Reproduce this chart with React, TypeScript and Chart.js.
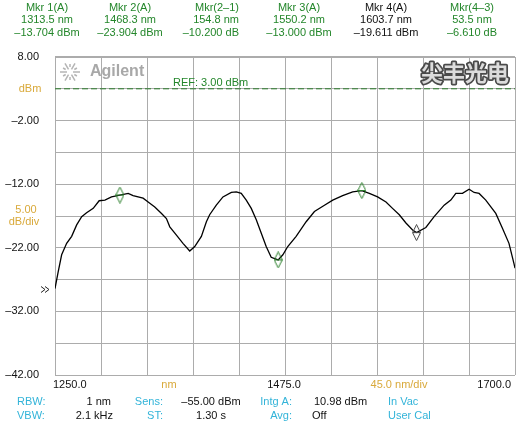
import React, { useEffect, useRef } from 'react';
import { Chart, registerables } from 'chart.js';

Chart.register(...registerables);

// ---------- data ----------
const waveNm = [
  1250.0, 1253.2, 1256.5, 1261.4, 1266.3, 1271.2, 1276.1, 1280.9, 1287.4, 1293.2,
  1298.8, 1305.3, 1313.5, 1321.6, 1326.4, 1331.3, 1336.2, 1341.1, 1347.6, 1354.2,
  1359.0, 1362.3, 1368.8, 1375.2, 1381.8, 1386.7, 1393.2, 1398.1, 1401.3, 1407.8,
  1414.3, 1422.5, 1427.4, 1432.2, 1437.1, 1442.0, 1446.9, 1451.8, 1456.6, 1461.5,
  1468.3, 1472.9, 1477.7, 1485.9, 1495.7, 1503.8, 1513.6, 1521.7, 1531.4, 1541.2,
  1550.2, 1557.5, 1565.6, 1573.8, 1580.2, 1586.8, 1593.3, 1599.8, 1603.7, 1612.8,
  1620.9, 1630.7, 1637.2, 1642.1, 1648.6, 1655.1, 1660.0, 1664.9, 1671.4, 1681.2,
  1687.6, 1694.1, 1699.0, 1700.0,
];
const powerDbm = [
  -28.4, -25.7, -23.1, -21.3, -20.2, -18.4, -17.1, -16.5, -15.8, -14.6,
  -14.5, -14.0, -13.7, -13.45, -13.8, -14.0, -14.2, -14.8, -15.6, -16.6,
  -17.4, -18.7, -20.0, -21.3, -22.5, -21.8, -20.2, -17.9, -16.8, -15.3,
  -14.0, -13.3, -13.2, -13.45, -14.5, -15.8, -17.6, -19.7, -21.8, -23.5,
  -23.9, -23.1, -21.8, -20.2, -17.9, -16.3, -15.3, -14.5, -13.8, -13.2,
  -13.0, -13.45, -14.0, -14.8, -15.8, -16.8, -18.1, -19.2, -19.6, -18.8,
  -17.1, -15.3, -14.5, -13.45, -13.45, -12.8, -13.3, -13.45, -14.5, -16.6,
  -18.9, -21.3, -24.5, -25.2,
];

const markerNm = [1313.5, 1468.3, 1550.2, 1603.7];
const markerDbm = [-13.704, -23.904, -13.0, -19.611];
const markerColors = ['#2a7f2a', '#2a7f2a', '#2a7f2a', '#444444'];

const refLevel = 3.0;
const refLabel = 'REF: 3.00 dBm';

const xMin = 1250;
const xMax = 1700;
const xStep = 45;
const yMin = -42;
const yMax = 8;
const yStep = 5;

const yTickValues = [8, -2, -12, -22, -32, -42];
const yTickLabels = ['8.00', '–2.00', '–12.00', '–22.00', '–32.00', '–42.00'];
const yUnitValue = 3;
const yUnitLabel = 'dBm';
const yDivValue = -17;
const yDivLabel = ['5.00', 'dB/div'];

const xTickValues = [1250, 1475, 1700];
const xTickLabels = ['1250.0', '1475.0', '1700.0'];
const xUnitLabel = 'nm';
const xDivLabel = '45.0 nm/div';

const headerTitles = ['Mkr 1(A)', 'Mkr 2(A)', 'Mkr(2–1)', 'Mkr 3(A)', 'Mkr 4(A)', 'Mkr(4–3)'];
const headerWaves = ['1313.5 nm', '1468.3 nm', '154.8 nm', '1550.2 nm', '1603.7 nm', '53.5 nm'];
const headerLevels = ['–13.704 dBm', '–23.904 dBm', '–10.200 dB', '–13.000 dBm', '–19.611 dBm', '–6.610 dB'];
const headerColors = ['#23862a', '#23862a', '#23862a', '#23862a', '#111111', '#23862a'];

const infoLabels1 = ['RBW:', 'Sens:', 'Intg A:', 'In Vac'];
const infoValues1 = ['1 nm', '–55.00 dBm', '10.98 dBm'];
const infoLabels2 = ['VBW:', 'ST:', 'Avg:', 'User Cal'];
const infoValues2 = ['2.1 kHz', '1.30 s', 'Off'];

// ---------- style ----------
const GREEN = '#23862a';
const ORANGE = '#d9a93a';
const CYAN = '#33b4d9';
const GRID = '#acacac';
const FONT = '"Liberation Sans", Arial, sans-serif';

function makeMarker(color: string): HTMLCanvasElement {
  const c = document.createElement('canvas');
  c.width = 9;
  c.height = 17;
  const g = c.getContext('2d')!;
  g.strokeStyle = color;
  g.lineWidth = 1;
  g.beginPath();
  g.moveTo(4.5, 0.5);
  g.lineTo(8.5, 8.5);
  g.lineTo(4.5, 16.5);
  g.lineTo(0.5, 8.5);
  g.closePath();
  g.moveTo(1, 8.5);
  g.lineTo(8, 8.5);
  g.stroke();
  return c;
}

const textPlugin = {
  id: 'osaText',
  beforeDraw(chart: any) {
    const ctx = chart.ctx;
    ctx.save();
    ctx.fillStyle = '#ffffff';
    ctx.fillRect(0, 0, chart.width, chart.height);
    ctx.restore();
  },
  afterDraw(chart: any) {
    const ctx = chart.ctx;
    const xs = chart.scales.x;
    const ys = chart.scales.y;
    const area = chart.chartArea;
    ctx.save();
    ctx.font = `11px ${FONT}`;
    ctx.textBaseline = 'middle';

    // header
    const headerX = [47, 130, 239, 299, 386, 472];
    const headerAlign = ['center', 'center', 'right', 'center', 'center', 'center'];
    for (let i = 0; i < headerTitles.length; i++) {
      ctx.fillStyle = headerColors[i];
      ctx.textAlign = headerAlign[i];
      ctx.fillText(headerTitles[i], headerX[i], 8);
      ctx.fillText(headerWaves[i], headerX[i], 20);
      ctx.fillText(headerLevels[i], headerX[i], 33);
    }

    // y labels
    ctx.textAlign = 'right';
    ctx.fillStyle = '#111';
    yTickValues.forEach((v, i) => {
      ctx.fillText(yTickLabels[i], 39, ys.getPixelForValue(v));
    });
    ctx.fillStyle = ORANGE;
    ctx.textAlign = 'center';
    ctx.fillText(yUnitLabel, 30, ys.getPixelForValue(yUnitValue));
    const dv = ys.getPixelForValue(yDivValue);
    ctx.fillText(yDivLabel[0], 26, dv - 6);
    ctx.fillText(yDivLabel[1], 24, dv + 6);

    // trace start indicator
    const sy = ys.getPixelForValue(powerDbm[0]) + 1;
    ctx.strokeStyle = '#222';
    ctx.lineWidth = 1;
    ctx.beginPath();
    ctx.moveTo(41, sy - 3);
    ctx.lineTo(45, sy);
    ctx.lineTo(41, sy + 3);
    ctx.moveTo(45, sy - 3);
    ctx.lineTo(49, sy);
    ctx.lineTo(45, sy + 3);
    ctx.stroke();

    // x labels
    const xRow = area.bottom + 10;
    ctx.fillStyle = '#111';
    ctx.textAlign = 'left';
    ctx.fillText(xTickLabels[0], xs.getPixelForValue(xTickValues[0]) - 2, xRow);
    ctx.textAlign = 'center';
    ctx.fillText(xTickLabels[1], xs.getPixelForValue(xTickValues[1]) - 1, xRow);
    ctx.textAlign = 'right';
    ctx.fillText(xTickLabels[2], xs.getPixelForValue(xTickValues[2]) - 4, xRow);
    ctx.fillStyle = ORANGE;
    ctx.textAlign = 'center';
    ctx.fillText(xUnitLabel, 169, xRow);
    ctx.fillText(xDivLabel, 399, xRow);

    // info rows
    const r1 = 402;
    const r2 = 416;
    ctx.fillStyle = CYAN;
    ctx.textAlign = 'left';
    ctx.fillText(infoLabels1[0], 17, r1);
    ctx.fillText(infoLabels2[0], 17, r2);
    ctx.textAlign = 'right';
    ctx.fillText(infoLabels1[1], 163, r1);
    ctx.fillText(infoLabels2[1], 163, r2);
    ctx.fillText(infoLabels1[2], 292, r1);
    ctx.fillText(infoLabels2[2], 292, r2);
    ctx.textAlign = 'left';
    ctx.fillText(infoLabels1[3], 388, r1);
    ctx.fillText(infoLabels2[3], 388, r2);

    ctx.fillStyle = '#111';
    ctx.textAlign = 'right';
    ctx.fillText(infoValues1[0], 111, r1);
    ctx.fillText(infoValues2[0], 113, r2);
    ctx.textAlign = 'center';
    ctx.fillText(infoValues1[1], 211, r1);
    ctx.fillText(infoValues2[1], 211, r2);
    ctx.textAlign = 'left';
    ctx.fillText(infoValues1[2], 314, r1);
    ctx.fillText(infoValues2[2], 312, r2);

    // REF label
    ctx.fillStyle = GREEN;
    ctx.textAlign = 'left';
    ctx.fillText(refLabel, 173, ys.getPixelForValue(refLevel) - 6);

    // Agilent logo
    const cx = 70;
    const cy = 72;
    ctx.strokeStyle = '#b4b4b4';
    ctx.lineWidth = 1.5;
    for (let k = 0; k < 12; k++) {
      const a = (k * Math.PI) / 6;
      const r0 = k % 2 === 0 ? 3 : 5;
      const r1b = k % 2 === 0 ? 10 : 8;
      ctx.beginPath();
      ctx.moveTo(cx + r0 * Math.cos(a), cy + r0 * Math.sin(a));
      ctx.lineTo(cx + r1b * Math.cos(a), cy + r1b * Math.sin(a));
      ctx.stroke();
    }
    ctx.font = `bold 16px ${FONT}`;
    ctx.fillStyle = '#a8a8a8';
    ctx.textAlign = 'left';
    ctx.fillText('Agilent', 90, 72);

    // Chinese logo
    ctx.font = 'bold 22px "Noto Sans CJK SC", sans-serif';
    ctx.textAlign = 'center';
    ctx.lineJoin = 'round';
    ctx.lineWidth = 3.5;
    ctx.strokeStyle = '#4a4a4a';
    ctx.strokeText('尖丰光电', 465, 73);
    ctx.fillStyle = '#dcdcdc';
    ctx.fillText('尖丰光电', 465, 73);

    ctx.restore();
  },
};

export default function App() {
  const ref = useRef<HTMLCanvasElement | null>(null);

  useEffect(() => {
    const canvas = ref.current;
    if (!canvas) return;
    const markerImgs = markerColors.map((c) => makeMarker(c));
    const chart = new Chart(canvas, {
      type: 'line',
      data: {
        datasets: [
          {
            label: 'trace',
            data: waveNm.map((x, i) => ({ x, y: powerDbm[i] })),
            borderColor: '#000000',
            borderWidth: 1.3,
            pointRadius: 0,
            tension: 0,
            order: 2,
          },
          {
            label: 'ref',
            data: [
              { x: xMin, y: refLevel },
              { x: xMax, y: refLevel },
            ],
            borderColor: '#2a7a2a',
            borderWidth: 1,
            borderDash: [6, 3],
            pointRadius: 0,
            order: 3,
          },
          {
            label: 'markers',
            data: markerNm.map((x, i) => ({ x, y: markerDbm[i] })),
            showLine: false,
            pointStyle: markerImgs as any,
            pointRadius: 4,
            order: 1,
          },
        ],
      },
      options: {
        responsive: false,
        animation: false,
        events: [],
        layout: { padding: { left: 55, top: 57, right: 4, bottom: 52 } },
        plugins: {
          legend: { display: false },
          tooltip: { enabled: false },
        },
        scales: {
          x: {
            type: 'linear',
            min: xMin,
            max: xMax,
            ticks: { display: false, stepSize: xStep },
            grid: { color: GRID, lineWidth: 1, drawTicks: false },
            border: { display: false },
          },
          y: {
            type: 'linear',
            min: yMin,
            max: yMax,
            ticks: { display: false, stepSize: yStep },
            grid: {
              color: GRID,
              lineWidth: (c: any) => (c.tick && c.tick.value === yMax ? 2 : 1),
              drawTicks: false,
            },
            border: { display: false },
          },
        },
      },
      plugins: [textPlugin],
    });
    return () => chart.destroy();
  }, []);

  return (
    <div style={{ position: 'fixed', left: 0, top: 0, width: 520, height: 427, background: '#fff' }}>
      <canvas ref={ref} width={520} height={427} style={{ display: 'block' }} />
    </div>
  );
}
